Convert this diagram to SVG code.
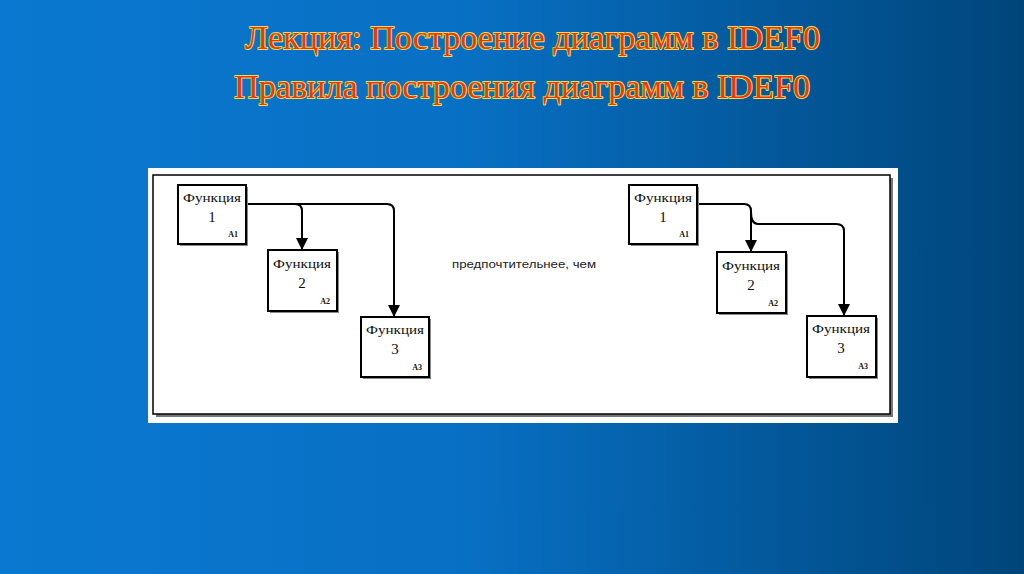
<svg xmlns="http://www.w3.org/2000/svg" width="1024" height="574" viewBox="0 0 1024 574">
<defs>
<linearGradient id="bg" x1="0" y1="0" x2="1" y2="0">
<stop offset="0" stop-color="#0a78d0"/>
<stop offset="0.45" stop-color="#0870c4"/>
<stop offset="1" stop-color="#00457a"/>
</linearGradient>
<marker id="arr" markerUnits="userSpaceOnUse" markerWidth="12" markerHeight="12" refX="12" refY="6" orient="auto" viewBox="0 0 12 12">
<path d="M0,0 L12,6 L0,12 Z" fill="#000"/>
</marker>
<style>
.title{font-family:"Liberation Serif","Times New Roman",serif;font-size:34px;fill:#f0360c;stroke:#e8e050;stroke-width:1.8px;paint-order:stroke;stroke-linejoin:round}
.box{fill:#fff;stroke:#000;stroke-width:2}
.sh{fill:#888}
.fn{font-family:"Liberation Serif",serif;font-size:13px;fill:#111;text-anchor:middle}
.num{font-family:"Liberation Serif",serif;font-size:15px;fill:#111;text-anchor:middle}
.id{font-family:"Liberation Serif",serif;font-size:8px;font-weight:bold;fill:#111;text-anchor:end}
.ln{fill:none;stroke:#000;stroke-width:2}
.mid{font-family:"Liberation Sans",Arial,sans-serif;font-size:10px;fill:#222}
</style>
</defs>
<rect width="1024" height="574" fill="url(#bg)"/>
<g id="titles">
<text class="title" x="245" y="49" textLength="575" lengthAdjust="spacingAndGlyphs">Лекция: Построение диаграмм в IDEF0</text>
<text class="title" x="234" y="98" textLength="576" lengthAdjust="spacingAndGlyphs">Правила построения диаграмм в IDEF0</text>
</g>
<g id="panel">
<rect x="148" y="168" width="750" height="255" fill="#fff"/>
<rect x="156" y="178" width="737" height="239" fill="#777"/>
<rect x="153" y="175" width="737" height="239" fill="#fff" stroke="#000" stroke-width="1.5"/>
</g>
<g id="connectors">
<path class="ln" d="M246,204 H295 Q302,204 302,211 V250" marker-end="url(#arr)"/>
<path class="ln" d="M246,204 H387 Q394,204 394,211 V317" marker-end="url(#arr)"/>
<path class="ln" d="M697,204 H744 Q751,204 751,211 V252" marker-end="url(#arr)"/>
<path class="ln" d="M751,212 Q751,224 758,224 H836 Q844,224 844,231 V316" marker-end="url(#arr)"/>
</g>
<g id="L1">
<rect class="sh" x="180" y="187" width="68" height="59"/>
<rect class="box" x="178" y="185" width="68" height="59"/>
<text class="fn" x="212" y="202" textLength="58" lengthAdjust="spacingAndGlyphs">Функция</text>
<text class="num" x="212" y="222">1</text>
<text class="id" x="238" y="237">A1</text>
</g>
<g id="L2">
<rect class="sh" x="270" y="252" width="69" height="61"/>
<rect class="box" x="268" y="250" width="69" height="61"/>
<text class="fn" x="302" y="268" textLength="58" lengthAdjust="spacingAndGlyphs">Функция</text>
<text class="num" x="302" y="288">2</text>
<text class="id" x="330" y="304">A2</text>
</g>
<g id="L3">
<rect class="sh" x="363" y="319" width="68" height="60"/>
<rect class="box" x="361" y="317" width="68" height="60"/>
<text class="fn" x="395" y="334" textLength="58" lengthAdjust="spacingAndGlyphs">Функция</text>
<text class="num" x="395" y="354">3</text>
<text class="id" x="422" y="370">A3</text>
</g>
<g id="middle">
<text class="mid" x="452" y="268" textLength="144" lengthAdjust="spacingAndGlyphs">предпочтительнее, чем</text>
</g>
<g id="R1">
<rect class="sh" x="631" y="187" width="68" height="59"/>
<rect class="box" x="629" y="185" width="68" height="59"/>
<text class="fn" x="663" y="202" textLength="58" lengthAdjust="spacingAndGlyphs">Функция</text>
<text class="num" x="663" y="222">1</text>
<text class="id" x="689" y="237">A1</text>
</g>
<g id="R2">
<rect class="sh" x="719" y="254" width="69" height="61"/>
<rect class="box" x="717" y="252" width="69" height="61"/>
<text class="fn" x="751" y="270" textLength="58" lengthAdjust="spacingAndGlyphs">Функция</text>
<text class="num" x="751" y="290">2</text>
<text class="id" x="778" y="306">A2</text>
</g>
<g id="R3">
<rect class="sh" x="809" y="318" width="69" height="61"/>
<rect class="box" x="807" y="316" width="69" height="61"/>
<text class="fn" x="841" y="333" textLength="58" lengthAdjust="spacingAndGlyphs">Функция</text>
<text class="num" x="841" y="353">3</text>
<text class="id" x="868" y="369">A3</text>
</g>
</svg>
